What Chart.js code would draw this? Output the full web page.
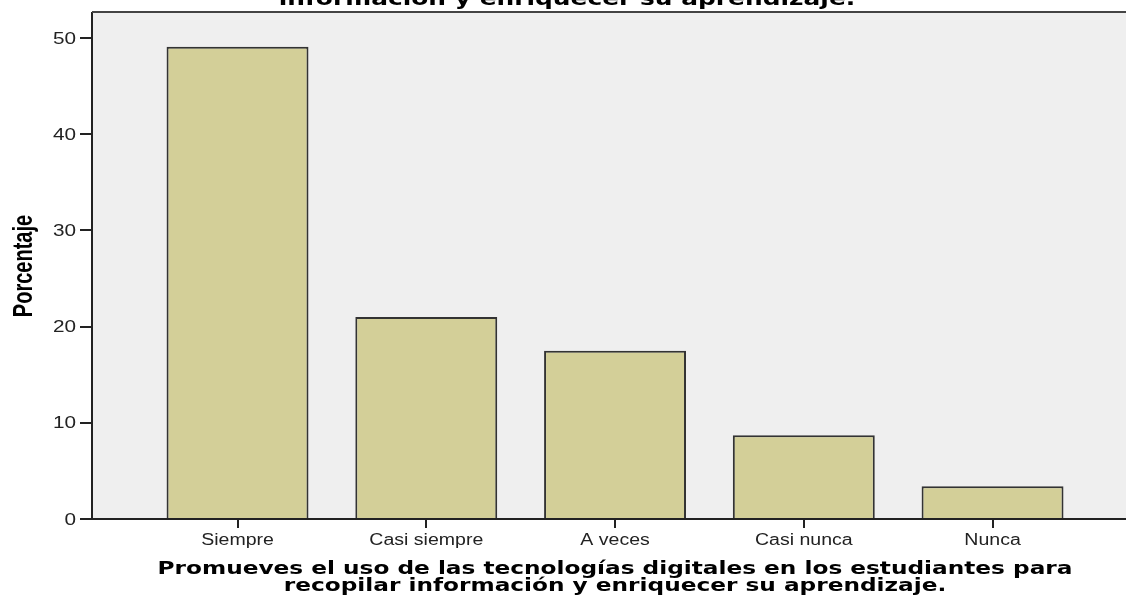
<!DOCTYPE html>
<html>
<head>
<meta charset="utf-8">
<script src="https://cdn.jsdelivr.net/npm/chart.js@4.4.1/dist/chart.umd.min.js"></script>
<style>
    html, body { margin: 0; padding: 0; background: #fff; overflow: hidden; }
    canvas { display: block; }
</style>
</head>
<body>
<canvas id="myChart" width="1126" height="600"></canvas>
<script>
// data
const categories = ['Siempre', 'Casi siempre', 'A veces', 'Casi nunca', 'Nunca'];
const percentages = [49.1, 21.0, 17.5, 8.7, 3.4];
const yTicks = [0, 10, 20, 30, 40, 50];

const chartTitle = 'información y enriquecer su aprendizaje.';
const xTitleLines = [
    'Promueves el uso de las tecnologías digitales en los estudiantes para',
    'recopilar información y enriquecer su aprendizaje.'
];
const yTitle = 'Porcentaje';

// the picture is stretched sideways, so text is drawn with a horizontal scale
function drawText(ctx, text, x, y, font, sx, align, baseline, color) {
    ctx.save();
    ctx.font = font;
    ctx.fillStyle = color;
    ctx.textAlign = align;
    ctx.textBaseline = baseline;
    ctx.translate(x, y);
    ctx.scale(sx, 1);
    ctx.fillText(text, 0, 0);
    ctx.restore();
}

const spssLook = {
    id: 'spssLook',
    beforeDraw(chart) {
        let ctx = chart.ctx;
        let a = chart.chartArea;
        ctx.save();
        ctx.fillStyle = '#efefef';
        ctx.fillRect(a.left, a.top, a.right - a.left, a.bottom - a.top);
        ctx.restore();
    },
    afterDraw(chart) {
        let ctx = chart.ctx;
        let a = chart.chartArea;
        let xs = chart.scales.x;
        let ys = chart.scales.y;

        // top frame line
        ctx.save();
        ctx.strokeStyle = '#444';
        ctx.lineWidth = 2;
        ctx.beginPath();
        ctx.moveTo(a.left, a.top - 1);
        ctx.lineTo(a.right, a.top - 1);
        ctx.stroke();
        ctx.restore();

        xs.ticks.forEach(t => {
            drawText(ctx, categories[t.value], xs.getPixelForValue(t.value), 545,
                '16px "Liberation Sans"', 1.22, 'center', 'alphabetic', '#222');
        });
        ys.ticks.forEach(t => {
            drawText(ctx, String(t.value), 76, ys.getPixelForValue(t.value) + 1,
                '17px "Liberation Sans"', 1.22, 'right', 'middle', '#222');
        });

        drawText(ctx, chartTitle, 567, 5, 'bold 19px "DejaVu Sans"', 1.31, 'center', 'alphabetic', '#000');
        drawText(ctx, xTitleLines[0], 615, 574, 'bold 18px "DejaVu Sans"', 1.29, 'center', 'alphabetic', '#000');
        drawText(ctx, xTitleLines[1], 615, 591, 'bold 18px "DejaVu Sans"', 1.29, 'center', 'alphabetic', '#000');

        // rotated y title, stretched across its glyph height
        ctx.save();
        ctx.font = 'bold 20px "Liberation Sans"';
        ctx.fillStyle = '#000';
        ctx.textAlign = 'center';
        ctx.textBaseline = 'alphabetic';
        ctx.translate(32, (a.top + a.bottom) / 2);
        ctx.rotate(-Math.PI / 2);
        ctx.scale(1, 1.35);
        ctx.fillText(yTitle, 0, 0);
        ctx.restore();
    }
};

let points = categories.map((c, i) => ({ x: i, y: percentages[i] }));

let myChart = new Chart(document.getElementById('myChart'), {
    type: 'bar',
    data: {
        datasets: [{
            label: 'Porcentaje',
            data: points,
            backgroundColor: '#d3cf98',
            borderColor: '#333',
            borderWidth: 2,
            categoryPercentage: 1,
            barPercentage: 0.752
        }]
    },
    options: {
        responsive: false,
        devicePixelRatio: 1,
        animation: false,
        layout: { padding: { top: 13, left: 0, right: 0, bottom: 0 } },
        plugins: {
            legend: { display: false },
            tooltip: { enabled: false }
        },
        scales: {
            x: {
                type: 'linear',
                offset: false,
                min: -0.771,
                max: 4.707,
                afterBuildTicks: scale => {
                    scale.ticks = categories.map((c, i) => ({ value: i }));
                },
                afterFit: scale => { scale.height = 81; },
                ticks: { display: false },
                grid: { offset: false, drawOnChartArea: false, drawTicks: true, tickLength: 9, color: '#222', lineWidth: 2 },
                border: { display: true, color: '#222', width: 2 }
            },
            y: {
                min: 0,
                max: 52.6,
                afterBuildTicks: scale => {
                    scale.ticks = yTicks.map(v => ({ value: v }));
                },
                afterFit: scale => { scale.width = 92; },
                ticks: { display: false },
                grid: { drawOnChartArea: false, drawTicks: true, tickLength: 12, color: '#222', lineWidth: 2 },
                border: { display: true, color: '#222', width: 2 }
            }
        }
    },
    plugins: [spssLook]
});
</script>
</body>
</html>
